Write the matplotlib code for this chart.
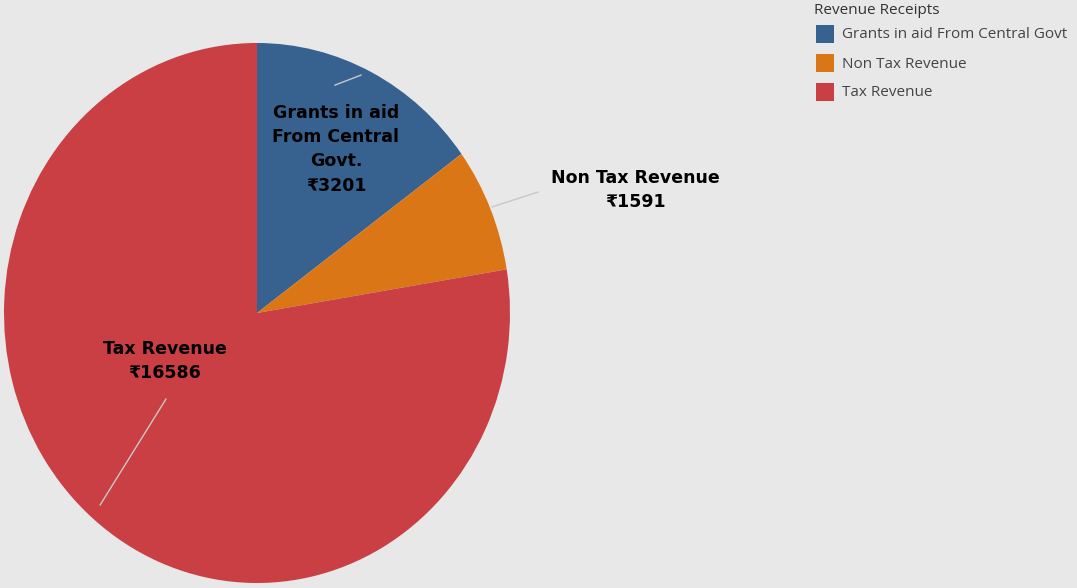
import matplotlib.pyplot as plt
import numpy as np
from matplotlib.patches import Rectangle

# Datos
categorias = ["Grants in aid From Central Govt", "Non Tax Revenue", "Tax Revenue"]
etiquetas = ["Grants in aid\nFrom Central\nGovt.", "Non Tax Revenue", "Tax Revenue"]
valores = [3201, 1591, 16586]
colores = ["#37628F", "#DB7617", "#C93F44"]
titulo_leyenda = "Revenue Receipts"

W, H = 1077, 588
fig = plt.figure(figsize=(W / 100, H / 100), dpi=100)
fig.patch.set_facecolor("#E8E8E8")

# ejes colocados en pixeles: la torta es un poco eliptica en la referencia
ax = fig.add_axes([4 / W, 5 / H, 506 / W, 540 / H])
ax.pie(valores, colors=colores, startangle=90, counterclock=False, radius=1,
       wedgeprops=dict(linewidth=0))
ax.set_aspect("auto")
ax.set_xlim(-1, 1)
ax.set_ylim(-1, 1)
ax.axis("off")

# Posiciones de etiquetas y lineas guia (coordenadas del eje)
pos_texto = [(0.312, 0.607), (1.494, 0.456), (-0.364, -0.178)]
lineas = [((0.308, 0.844), (0.411, 0.881)),
          ((0.929, 0.393), (1.111, 0.448)),
          ((-0.36, -0.319), (-0.62, -0.711))]

for i in range(len(valores)):
    (x0, y0), (x1, y1) = lineas[i]
    ax.plot([x0, x1], [y0, y1], color="#C8C8C8", lw=1, clip_on=False)
    tx, ty = pos_texto[i]
    ax.text(tx, ty, f"{etiquetas[i]}\n₹{valores[i]}", ha="center", va="center",
            fontsize=12.5, fontweight="bold", color="black", linespacing=1.45,
            family=["DejaVu Sans"], clip_on=False)

# Leyenda manual
fig.text(814 / W, 1 - 11 / H, titulo_leyenda, fontsize=11, color="#333333",
         ha="left", va="center", family=["Open Sans", "DejaVu Sans"])
for i, cat in enumerate(categorias):
    yc = 34 + 29 * i
    fig.patches.append(Rectangle((816 / W, 1 - (yc + 9) / H), 18 / W, 18 / H,
                                 transform=fig.transFigure, facecolor=colores[i],
                                 edgecolor="none"))
    fig.text(842 / W, 1 - (yc + 1) / H, cat, fontsize=11, color="#444444",
             ha="left", va="center", family=["Open Sans", "DejaVu Sans"])

fig.savefig("out.png", dpi=100, facecolor=fig.get_facecolor())
